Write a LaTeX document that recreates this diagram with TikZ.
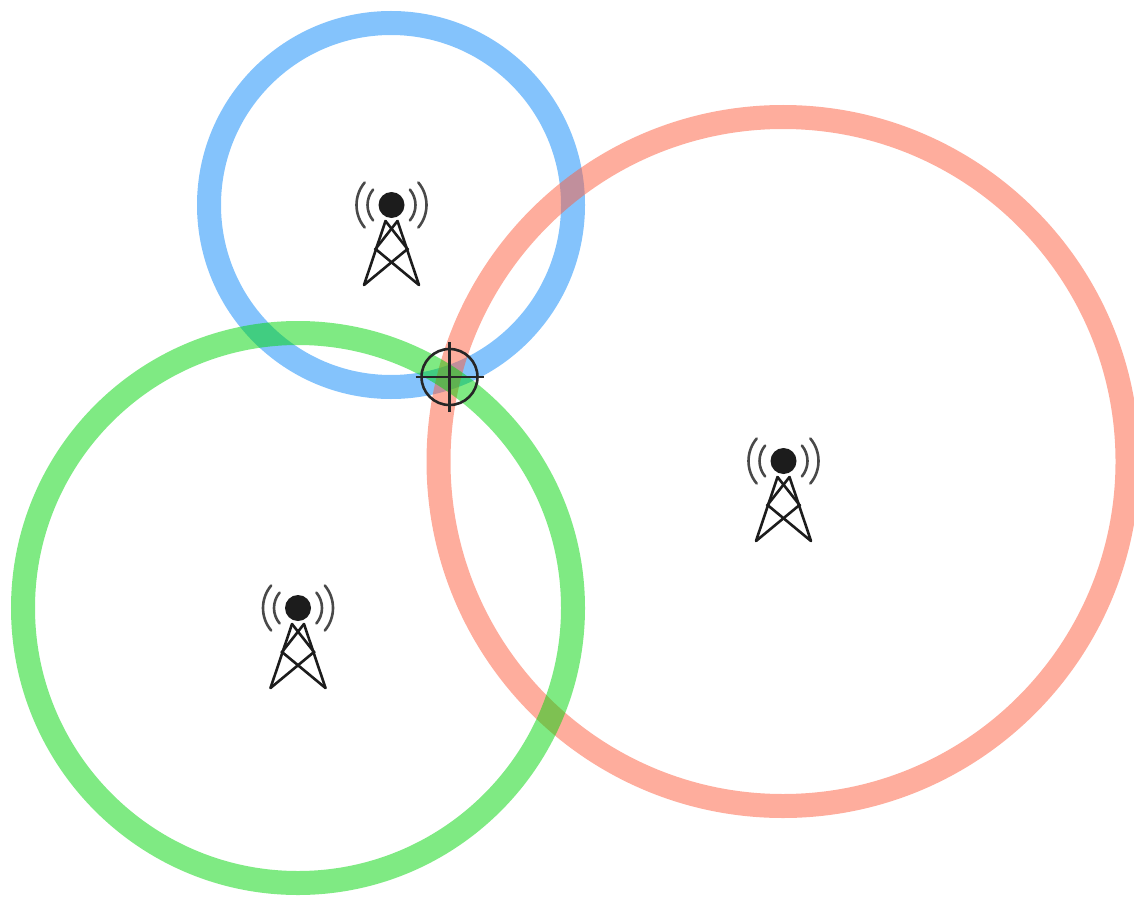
\documentclass[tikz,border=0pt]{standalone}
\usepackage{xcolor}
\definecolor{ringblue}{RGB}{10,136,250}
\definecolor{ringred}{RGB}{253,92,60}
\definecolor{ringgreen}{RGB}{0,214,8}
\definecolor{towerblack}{RGB}{28,28,28}
\tikzset{
  ring/.style={line width=24pt,draw opacity=0.5},
  mast/.style={towerblack,line width=2.6pt,line cap=round},
  wave/.style={towerblack!80,line width=2.6pt,line cap=round},
  cross/.style={black!85,line width=2.6pt},
  tower/.pic={
    % Antenna ball
    \fill[towerblack] (0,0) circle[radius=13];
    % Legs
    \draw[mast] (-27.5,80) -- (-6,16);
    \draw[mast] (27.5,80) -- (6,16);
    % Lattice
    \draw[mast] (-6,16) -- (16,44) -- (-27.5,80);
    \draw[mast] (6,16) -- (-16,44) -- (27.5,80);
    % Signal waves
    \foreach \r in {24,35}{
      \draw[wave] (140:\r) arc[start angle=140,end angle=220,radius=\r];
      \draw[wave] (40:\r) arc[start angle=40,end angle=-40,radius=\r];
    }
  }
}
\begin{document}
\begin{tikzpicture}[x=1pt,y=-1pt]
  \useasboundingbox (0,0) rectangle (1134,896);
  \clip (0,0) rectangle (1134,896);
  \coordinate (bluetower) at (391.5,205);
  \coordinate (redtower) at (783.5,461);
  \coordinate (greentower) at (298,608);
  \coordinate (target) at (449.5,377);
  % Range circles
  \draw[ring,ringblue] (391,205) circle[radius=182];
  \draw[ring,ringred] (783,461.5) circle[radius=344.5];
  \draw[ring,ringgreen] (298,608) circle[radius=275];
  % Towers
  \foreach \name in {bluetower,redtower,greentower}{
    \pic at (\name) {tower};
  }
  % Crosshair
  \draw[cross] (target) circle[radius=28];
  \draw[cross] ([xshift=-34pt]target) -- ([xshift=34pt]target);
  \draw[cross] ([yshift=-35pt]target) -- ([yshift=35pt]target);
\end{tikzpicture}
\end{document}
